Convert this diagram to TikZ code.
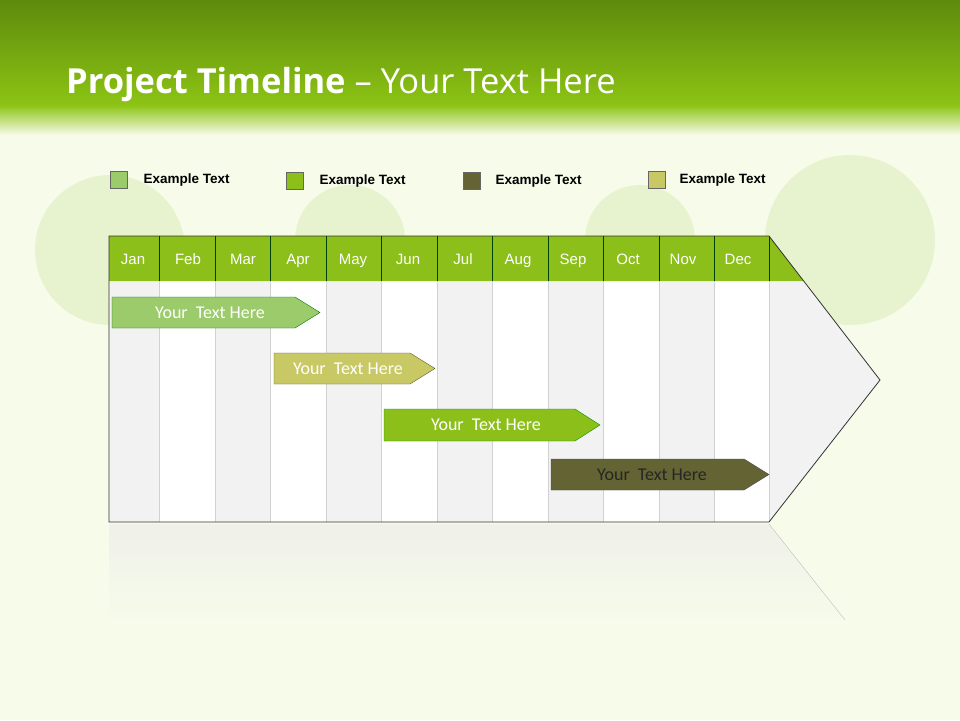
\documentclass[tikz,border=0pt]{standalone}
\usepackage{fontspec}
\setmainfont{Liberation Sans}
\newfontfamily\calfont{Carlito}
\newfontfamily\ttlfont{Open Sans}
\definecolor{bg}{HTML}{F7FBEA}
\definecolor{topg}{HTML}{5E8A0C}
\definecolor{midg}{HTML}{8CC414}
\definecolor{hdr}{HTML}{8CBF1A}
\definecolor{cA}{HTML}{9BCB6A}
\definecolor{cB}{HTML}{8CBF1A}
\definecolor{cC}{HTML}{636334}
\definecolor{cD}{HTML}{C8C864}
\definecolor{colg}{HTML}{F2F2F2}
\definecolor{bulb}{HTML}{D5EAB0}
\begin{document}
\begin{tikzpicture}[x=1pt,y=-1pt,
  mon/.style={text=white,font=\fontsize{15}{16}\selectfont,text height=11pt,text depth=3pt},
  leg/.style={draw=black!60,line width=0.6pt,minimum size=17pt,inner sep=0},
  legt/.style={anchor=west,font=\bfseries\fontsize{13.5}{15}\selectfont},
  bartxt/.style={font=\calfont\fontsize{18}{20}\selectfont}]
\useasboundingbox (0,0) rectangle (960,720);
\fill[bg] (0,0) rectangle (960,720);
% faint bulbs
\foreach \cx/\cy/\r in {110/250/75,350/240/55,640/240/55,850/240/85}
  \fill[bulb,opacity=0.45] (\cx,\cy) circle (\r);
% title band
\shade[top color=topg,bottom color=midg] (0,0) rectangle (960,105);
\shade[top color=midg,bottom color=bg] (0,105) rectangle (960,135);
\node[anchor=base west,text=white,inner sep=0,font=\ttlfont\fontsize{34.5}{40}\selectfont] (title) at (66,93)
  {\textbf{Project Timeline} – Your Text Here};
% legend
\node[leg,fill=cA] (l1) at (119,180) {};
\node[legt] (t1) at (140,180) {Example Text};
\node[leg,fill=cB] (l2) at (295,181) {};
\node[legt] (t2) at (316,181) {Example Text};
\node[leg,fill=cC] (l3) at (472,181) {};
\node[legt] (t3) at (492,181) {Example Text};
\node[leg,fill=cD] (l4) at (657,180) {};
\node[legt] (t4) at (676,180) {Example Text};
% reflection
\shade[top color=black!8,bottom color=bg,opacity=0.6] (109,524) -- (769,524) -- (845,620) -- (109,620) -- cycle;
\draw[black!25] (769,524) -- (845,620);
% main shape
\fill[colg] (109,236) -- (769,236) -- (880,380) -- (769,522) -- (109,522) -- cycle;
\foreach \a/\b in {159/215,270/326,381/437,492/548,603/659,714/769}
  \fill[white] (\a,281) rectangle (\b,522);
\fill[hdr] (109,236) -- (769,236) -- (803.7,281) -- (109,281) -- cycle;
\foreach \x in {159,215,270,326,381,437,492,548,603,659,714,769}
  {\draw[black!75!green,line width=0.8pt] (\x,236) -- (\x,281);
   \draw[black!18,line width=1pt] (\x,281) -- (\x,522);}
\draw[black!80,line width=0.8pt] (109,236) -- (769,236) -- (880,380) -- (769,522) -- (109,522) -- cycle;
\foreach \m [count=\i from 0] in {Jan,Feb,Mar,Apr,May,Jun,Jul,Aug,Sep,Oct,Nov,Dec}{
  \pgfmathsetmacro{\xx}{109+\i*55.0+24}
  \node[mon] (m\i) at (\xx,260) {\m};}
% bars
\draw[draw=black!50!green,fill=cA] (112,297) -- (295,297) -- (320,312.5) -- (295,328) -- (112,328) -- cycle;
\node[bartxt,text=white] (b1) at (210,313) {Your\ \ Text Here};
\draw[draw=black!40!olive,fill=cD] (274,353) -- (410,353) -- (435,368.5) -- (410,384) -- (274,384) -- cycle;
\node[bartxt,text=white] (b2) at (348,369) {Your\ \ Text Here};
\draw[draw=black!40!green,fill=cB] (384,409) -- (575,409) -- (600,425) -- (575,441) -- (384,441) -- cycle;
\node[bartxt,text=white] (b3) at (486,425) {Your\ \ Text Here};
\draw[draw=black!70,fill=cC] (551,459) -- (744,459) -- (769,474.5) -- (744,490) -- (551,490) -- cycle;
\node[bartxt,text=black!85] (b4) at (652,475) {Your\ \ Text Here};
\end{tikzpicture}
\end{document}
